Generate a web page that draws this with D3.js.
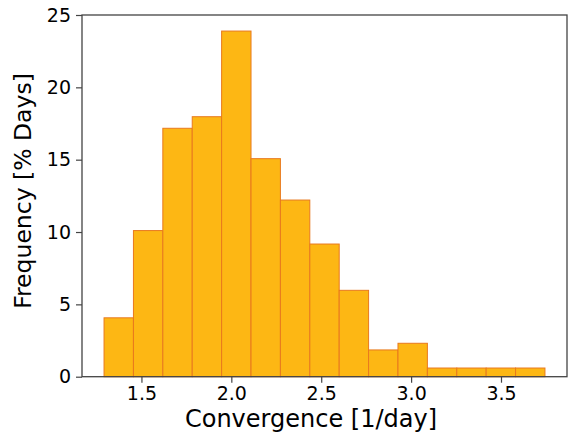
<!DOCTYPE html>
<html><head><meta charset="utf-8">
<script src="https://cdn.jsdelivr.net/npm/d3@7"></script>
<style>body{margin:0;background:#fff}svg{display:block}text{font-family:"DejaVu Sans",sans-serif;fill:#000}</style>
</head><body>
<svg id="c" width="569" height="435"></svg>
<script>
const binStart = 1.292;
const binWidth = 0.1635;
const freqs = [4.07, 10.1, 17.17, 17.97, 23.89, 15.07, 12.21, 9.17, 5.97, 1.85, 2.31, 0.6, 0.6, 0.6, 0.6];
const xTicks = [1.5, 2.0, 2.5, 3.0, 3.5];
const yTicks = [0, 5, 10, 15, 20, 25];
const xLabel = "Convergence [1/day]";
const yLabel = "Frequency [% Days]";

const bins = freqs.map((v, i) => ({x0: binStart + i * binWidth, x1: binStart + (i + 1) * binWidth, v}));
const lo = bins[0].x0, hi = bins[bins.length - 1].x1, pad = (hi - lo) * 0.05;

const L = 82, R = 567, T = 15, B = 376.7;
const svg = d3.select("#c");
const x = d3.scaleLinear().domain([lo - pad, hi + pad]).range([L, R]);
const y = d3.scaleLinear().domain([0, 25]).range([B, T]);

svg.append("g").selectAll("rect").data(bins).join("rect")
  .attr("x", d => x(d.x0)).attr("width", d => x(d.x1) - x(d.x0))
  .attr("y", d => y(d.v)).attr("height", d => y(0) - y(d.v))
  .attr("fill", "#fdb714").attr("stroke", "#e8791e").attr("stroke-width", 1);

const xa = svg.append("g").attr("transform", `translate(0,${B})`)
  .call(d3.axisBottom(x).tickValues(xTicks).tickFormat(d3.format(".1f")).tickSize(6).tickPadding(4));
const ya = svg.append("g").attr("transform", `translate(${L},0)`)
  .call(d3.axisLeft(y).tickValues(yTicks).tickFormat(d3.format("d")).tickSize(6).tickPadding(5));
[xa, ya].forEach(a => {
  a.select(".domain").remove();
  a.selectAll("line").attr("stroke", "#444").attr("stroke-width", 1.2);
  a.selectAll("text").style("font-size", "19px").attr("fill", "#000").style("font-family", '"DejaVu Sans",sans-serif');
});

svg.append("rect").attr("x", L).attr("y", T).attr("width", R - L).attr("height", B - T)
  .attr("fill", "none").attr("stroke", "#444").attr("stroke-width", 1.3);

svg.append("text").attr("x", 311).attr("y", 427).attr("text-anchor", "middle")
  .style("font-size", "24px").text(xLabel);
svg.append("text").attr("transform", `translate(31,191) rotate(-90)`).attr("text-anchor", "middle")
  .style("font-size", "23.5px").text(yLabel);
</script>
</body></html>
